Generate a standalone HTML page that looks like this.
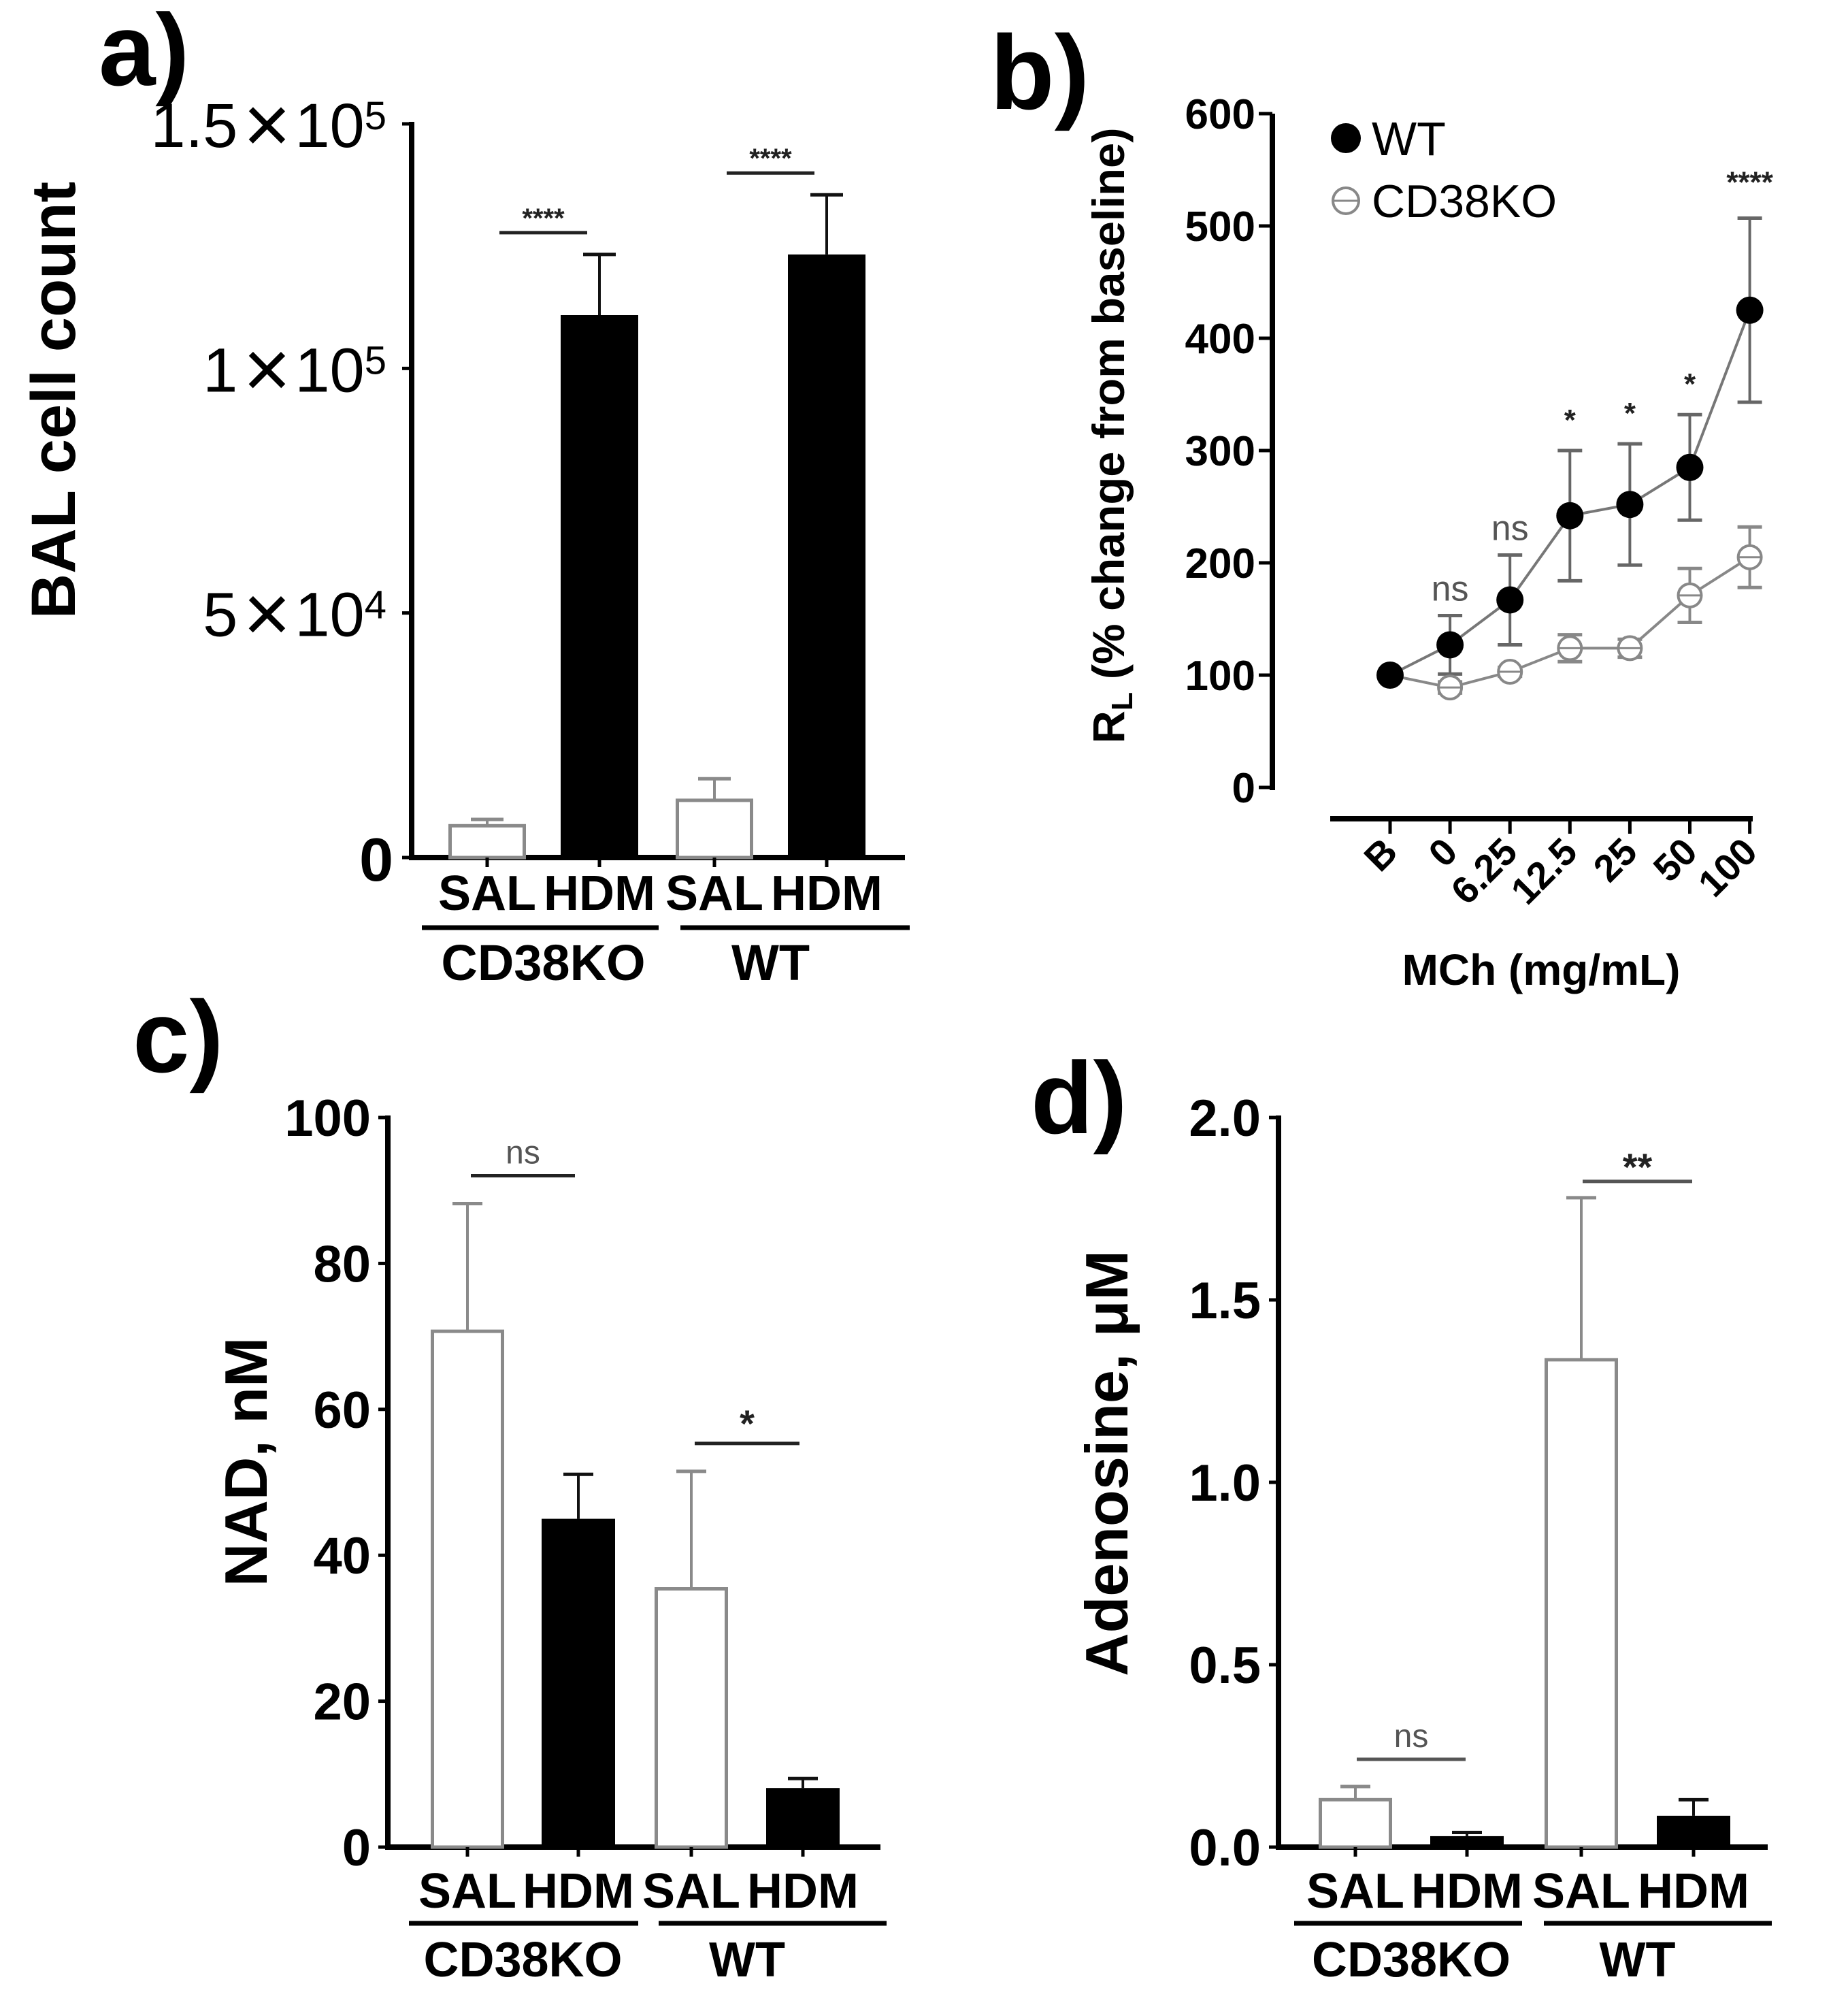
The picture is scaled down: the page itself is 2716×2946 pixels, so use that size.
<!DOCTYPE html>
<html><head><meta charset="utf-8"><style>
html,body{margin:0;padding:0;background:#fff;}
svg{display:block;font-family:"Liberation Sans",Arial,sans-serif;}
</style></head><body>
<svg id="fig" width="2716" height="2946" viewBox="0 0 2716 2946" xmlns="http://www.w3.org/2000/svg">
<rect width="2716" height="2946" fill="#fff"/>
<g id="pa"></g>
<g id="pb"></g>
<g id="pc"></g>
<g id="pd"></g>
</svg>
<script>
// ---- Panel a data ----
const aGroups = ["SAL","HDM","SAL","HDM"];
const aValues = [6500, 110900, 11700, 123300];
const aErrors = [1300, 12400, 4400, 12200];
const aTicks = [0, 50000, 100000, 150000];
const aTickLabels = [["0","",""],["5","10","4"],["1","10","5"],["1.5","10","5"]];
const aSig = ["****","****"];
// ---- Panel b data ----
const bCats = ["B","0","6.25","12.5","25","50","100"];
const bWT = [100, 127, 167, 242, 252, 285, 425];
const bWTerr = [0, 26, 40, 58, 54, 47, 82];
const bKO = [100, 89, 103, 124, 124, 171, 205];
const bKOerr = [0, 5, 4, 12, 8, 24, 27];
const bTicks = [0,100,200,300,400,500,600];
const bSig = ["","ns","ns","*","*","*","****"];
// ---- Panel c data ----
const cValues = [70.7, 45.0, 35.4, 8.1];
const cErrors = [17.5, 6.1, 16.1, 1.3];
const cTicks = [0,20,40,60,80,100];
const cSig = ["ns","*"];
// ---- Panel d data ----
const dValues = [0.13, 0.03, 1.336, 0.086];
const dErrors = [0.036, 0.01, 0.444, 0.044];
const dTicks = [0,0.5,1.0,1.5,2.0];
const dTickLabels = ["0.0","0.5","1.0","1.5","2.0"];
const dSig = ["ns","**"];

const NS="http://www.w3.org/2000/svg";
function mk(parent, tag, attrs, text){
  const e=document.createElementNS(NS,tag);
  for(const k in attrs) e.setAttribute(k, attrs[k]);
  if(text!==undefined) e.textContent=text;
  parent.appendChild(e); return e;
}
function line(p,x1,y1,x2,y2,col,w){return mk(p,'line',{x1,y1,x2,y2,stroke:col,'stroke-width':w});}

function barPanel(gid, cfg){
  const g=document.getElementById(gid);
  const y=v=>cfg.y0-(v-cfg.min)/(cfg.max-cfg.min)*(cfg.y0-cfg.yTop);
  const ya=line(g,cfg.ax,cfg.yTop-3,cfg.ax,cfg.y0+4,'#000',8);
  
  
  const xa=line(g,cfg.ax-4,cfg.y0,cfg.xEnd,cfg.y0,'#000',8);
  
  
  cfg.ticks.forEach((t,i)=>{
    const ty=y(t);
    line(g,cfg.ax-14,ty,cfg.ax,ty,'#000',5);
    const lab=cfg.tickLabel(g,t,i,ty);
    
    
  });
  cfg.values.forEach((v,i)=>{
    const cx=cfg.centers[i], filled=(i%2===1);
    const top=y(v), et=y(v+cfg.errors[i]);
    const ec=filled?'#111':'#8a8a8a';
    line(g,cx,top,cx,et,ec,4);
    line(g,cx-cfg.capW,et,cx+cfg.capW,et,ec,5);
    const r=mk(g,'rect',{x:cx-cfg.bw/2+(filled?0:2.5),y:top,width:cfg.bw-(filled?0:5),height:Math.max(cfg.y0-top,1),
      fill:filled?'#000':'#fff',stroke:filled?'#000':'#8a8a8a','stroke-width':filled?0:5});
    
    
    line(g,cx,cfg.y0,cx,cfg.y0+14,'#000',5);
    const tl=mk(g,'text',{x:cx,y:cfg.labY,'text-anchor':'middle','font-size':cfg.catFs,'font-weight':'bold'},aGroups[i]);
    
    
  });
  const gn=["CD38KO","WT"];
  cfg.groupLines.forEach((gl,k)=>{
    line(g,gl[0],cfg.grpLineY,gl[1],cfg.grpLineY,'#000',7);
    const t=mk(g,'text',{x:(cfg.centers[2*k]+cfg.centers[2*k+1])/2,y:cfg.grpY,'text-anchor':'middle','font-size':cfg.grpFs,'font-weight':'bold'},gn[k]);
    
    
  });
  cfg.sig.forEach((s,k)=>{
    const i0=2*k, i1=2*k+1;
    const top=Math.min(y(cfg.values[i0]+cfg.errors[i0]),y(cfg.values[i1]+cfg.errors[i1]));
    const ly=top-cfg.sigGap[k];
    line(g,cfg.centers[i0]-cfg.sigExt,ly,cfg.centers[i1]+cfg.sigExt,ly,cfg.sigCol,5);
    const st=mk(g,'text',{x:(cfg.centers[i0]+cfg.centers[i1])/2,y:ly-cfg.sigTextOff[k],'text-anchor':'middle','font-size':s==='ns'?48:(s.length>2?40:56),'font-weight':s==='ns'?'normal':'bold',fill:s==='ns'?'#555':'#222'},s);
    
    
  });
  const yt=mk(g,'text',{x:0,y:0,transform:`translate(${cfg.titleX},${cfg.titleY}) rotate(-90)`,'text-anchor':'middle','font-size':cfg.titleFs,'font-weight':'bold'},cfg.title);
  
  
  const pl=mk(g,'text',{x:cfg.panelXY[0],y:cfg.panelXY[1],'font-size':150,'font-weight':'bold'},cfg.panel);
  
  
}

barPanel('pa',{ax:605,y0:1260,yTop:182,min:0,max:150000,xEnd:1330,
  centers:[716,881,1050,1215],bw:114,capW:24,values:aValues,errors:aErrors,ticks:aTicks,
  tickLabel:(g,t,i,ty)=>{
    const l=aTickLabels[i];
    if(!l[1]) return mk(g,'text',{x:578,y:ty+34,'text-anchor':'end','font-size':90,'font-weight':'bold'},l[0]);
    const tx=mk(g,'text',{x:568,y:ty+34,'text-anchor':'end','font-size':92},l[0]);
    mk(tx,'tspan',{dx:8,'font-size':120,'font-weight':'100',dy:8},'\u00d7');
    mk(tx,'tspan',{dx:6,'font-size':92,dy:-8},l[1]);
    mk(tx,'tspan',{dy:-26,'font-size':58},l[2]);
    return tx;
  },
  labY:1337,catFs:72,grpLineY:1363,grpY:1440,grpFs:74,groupLines:[[620,968],[1000,1337]],
  sig:aSig,sigGap:[32,32],sigTextOff:[8,8],sigExt:-18,sigCol:'#222',
  title:"BAL cell count",titleX:110,titleY:588,titleFs:92,panel:"a)",panelXY:[145,125]});

barPanel('pc',{ax:570,y0:2714,yTop:1642,min:0,max:100,xEnd:1294,
  centers:[687,850,1016,1180],bw:108,capW:22,values:cValues,errors:cErrors,ticks:cTicks,
  tickLabel:(g,t,i,ty)=>mk(g,'text',{x:545,y:ty+27,'text-anchor':'end','font-size':76,'font-weight':'bold'},String(t)),
  labY:2803,catFs:72,grpLineY:2826,grpY:2904,grpFs:72,groupLines:[[601,938],[968,1303]],
  sig:cSig,sigGap:[41,41],sigTextOff:[18,10],sigExt:-5,sigCol:'#222',
  title:"NAD, nM",titleX:392,titleY:2148,titleFs:88,panel:"c)",panelXY:[195,1575]});

barPanel('pd',{ax:1879,y0:2714,yTop:1642,min:0,max:2,xEnd:2598,
  centers:[1992,2156,2324,2489],bw:108,capW:22,values:dValues,errors:dErrors,ticks:dTicks,
  tickLabel:(g,t,i,ty)=>mk(g,'text',{x:1853,y:ty+27,'text-anchor':'end','font-size':76,'font-weight':'bold'},dTickLabels[i]),
  labY:2803,catFs:72,grpLineY:2826,grpY:2904,grpFs:72,groupLines:[[1902,2237],[2269,2604]],
  sig:dSig,sigGap:[40,24],sigTextOff:[18,2],sigExt:-2,sigCol:'#555',
  title:"Adenosine, \u03bcM",titleX:1657,titleY:2150,titleFs:88,panel:"d)",panelXY:[1515,1665]});

(function(){
  const g=document.getElementById('pb');
  const ax=1870, y0=1157, yTop=167, xAxY=1203;
  const y=v=>y0-v/600*(y0-yTop);
  const x0=2043, dx=88.1;
  const x=i=>x0+i*dx;
  const ya=line(g,ax,yTop,ax,y0+4,'#000',8);
  
  
  const xa=line(g,1955,xAxY,2576,xAxY,'#000',8);
  
  
  bTicks.forEach(t=>{
    line(g,ax-20,y(t),ax,y(t),'#000',5);
    const l=mk(g,'text',{x:1845,y:y(t)+22,'text-anchor':'end','font-size':62,'font-weight':'bold'},String(t));
    
    
  });
  bCats.forEach((c,i)=>{
    line(g,x(i),xAxY,x(i),xAxY+22,'#000',5);
    const l=mk(g,'text',{x:0,y:0,transform:`translate(${x(i)+14},${xAxY+52}) rotate(-45)`,'text-anchor':'end','font-size':56,'font-weight':'bold'},c);
    
    
  });
  const ptsKO=bKO.map((v,i)=>x(i)+','+y(v)).join(' ');
  const ptsWT=bWT.map((v,i)=>x(i)+','+y(v)).join(' ');
  const lk=mk(g,'polyline',{points:ptsKO,fill:'none',stroke:'#888','stroke-width':4});
  
  
  const lw=mk(g,'polyline',{points:ptsWT,fill:'none',stroke:'#777','stroke-width':4});
  
  
  function eb(vals,errs,col){
    vals.forEach((v,i)=>{
      if(!errs[i]) return;
      const a=y(v+errs[i]), b=y(v-errs[i]);
      line(g,x(i),a,x(i),b,col,4);
      line(g,x(i)-18,a,x(i)+18,a,col,5);
      line(g,x(i)-18,b,x(i)+18,b,col,5);
    });
  }
  eb(bKO,bKOerr,'#888'); eb(bWT,bWTerr,'#666');
  bKO.forEach((v,i)=>{
    const c=mk(g,'circle',{cx:x(i),cy:y(v),r:17,fill:'#fff',stroke:'#888','stroke-width':4});
    
    
    line(g,x(i)-16,y(v),x(i)+16,y(v),'#888',3);
  });
  bWT.forEach((v,i)=>{
    const c=mk(g,'circle',{cx:x(i),cy:y(v),r:20,fill:'#000'});
    
    
  });
  bSig.forEach((s,i)=>{
    if(!s) return;
    const top=y(bWT[i]+bWTerr[i]);
    const t=mk(g,'text',{x:x(i),y:top-(s==='ns'?22:(s==='*'?30:38)),'text-anchor':'middle','font-size':s==='ns'?52:44,'font-weight':s==='ns'?'normal':'bold',fill:s==='ns'?'#555':'#222'},s);
    
    
  });
  const l1=mk(g,'circle',{cx:1978,cy:203,r:22,fill:'#000'});
  
  
  const t1=mk(g,'text',{x:2016,y:228,'font-size':70},'WT');
  
  
  const l2=mk(g,'circle',{cx:1978,cy:295,r:19,fill:'#fff',stroke:'#888','stroke-width':4});
  
  
  line(g,1960,295,1996,295,'#888',3);
  const t2=mk(g,'text',{x:2016,y:319,'font-size':68},'CD38KO');
  
  
  const yt=mk(g,'text',{x:0,y:0,transform:'translate(1652,640) rotate(-90)','text-anchor':'middle','font-size':66,'font-weight':'bold',textLength:905,lengthAdjust:'spacingAndGlyphs'});
  
  
  mk(yt,'tspan',{},'R');
  mk(yt,'tspan',{dy:12,'font-size':44},'L');
  mk(yt,'tspan',{dy:-12},' (% change from baseline)');
  const xt=mk(g,'text',{x:2265,y:1447,'text-anchor':'middle','font-size':64,'font-weight':'bold'},'MCh (mg/mL)');
  
  
  const pl=mk(g,'text',{x:1455,y:160,'font-size':155,'font-weight':'bold'},'b)');
  
  
})();
</script>
</body></html>
